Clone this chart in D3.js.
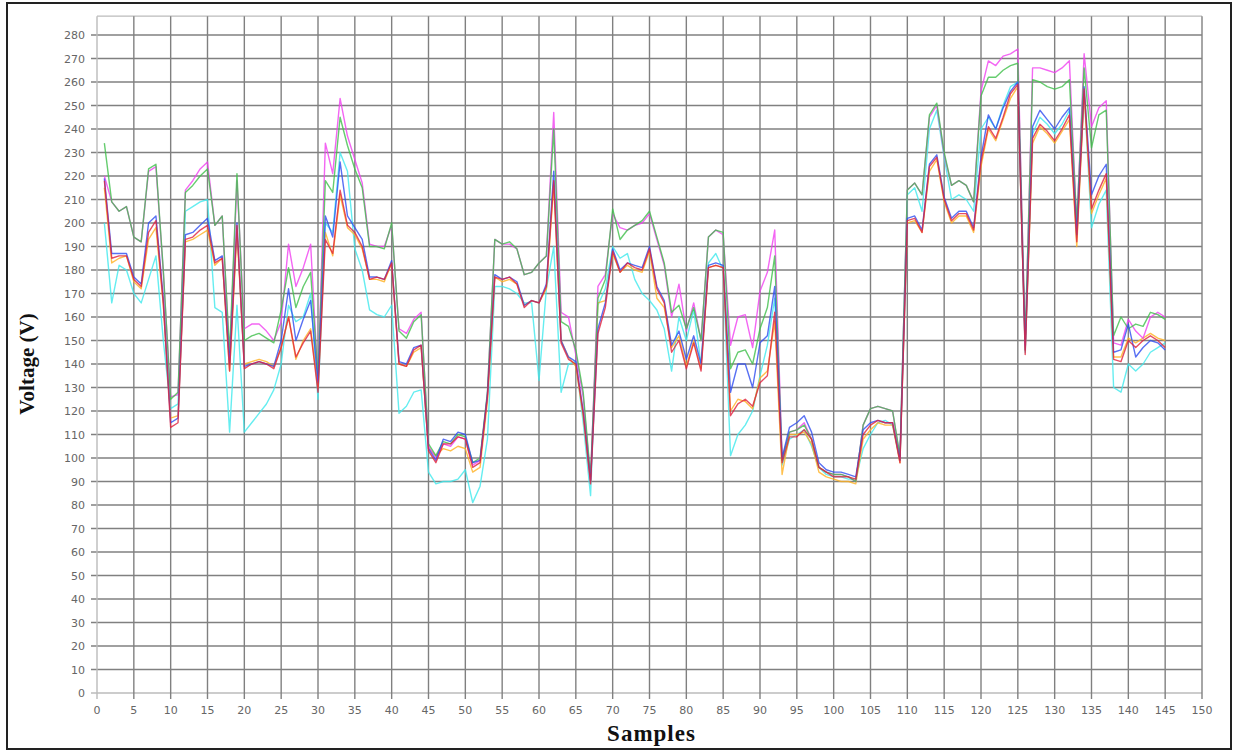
<!DOCTYPE html>
<html>
<head>
<meta charset="utf-8">
<script src="https://cdn.jsdelivr.net/npm/d3@7"></script>
<style>
  body { margin: 0; background: #fff; }
  svg { display: block; }
  .tick-label { font-family: "DejaVu Sans", sans-serif; font-size: 11px; fill: #666; }
  .axis-title { font-family: "Liberation Serif", "Times New Roman", serif; font-weight: bold; fill: #111; }
</style>
</head>
<body>
<svg id="chart" width="1238" height="753"></svg>
<script>
// samples 1..145
const samples = d3.range(1, 146);

const red = [218,185,186,186,176,173,196,201,166,113,115,193,194,197,199,183,185,137,199,138,
  140,141,140,138,147,160,143,149,154,128,193,187,214,199,196,190,176,177,176,183,
  140,139,146,148,103,98,106,106,109,108,96,98,126,177,176,177,174,164,167,166,
  173,218,149,142,140,119,89,153,164,188,179,183,181,180,189,172,166,145,150,138,
  149,137,181,182,181,118,123,125,122,132,135,162,98,109,109,112,108,96,94,92,
  92,92,91,110,114,116,115,115,98,201,202,196,224,228,210,201,204,204,197,226,
  241,236,245,255,259,144,236,242,239,235,240,246,192,257,206,214,221,142,141,150,
  147,150,152,150,147];

const blue = [219,187,187,187,177,174,200,203,168,115,117,195,196,199,202,184,186,140,200,139,
  140,141,140,139,150,172,150,159,167,132,203,194,226,203,198,193,177,177,176,184,
  141,140,147,148,104,99,108,107,111,110,98,99,127,178,176,177,175,165,167,166,
  174,222,150,143,141,120,90,155,166,189,180,183,182,181,190,173,167,148,154,142,
  152,140,182,183,182,128,140,140,130,149,152,173,100,113,115,118,111,98,95,94,
  94,93,92,112,115,116,115,115,99,202,203,197,225,229,211,202,205,205,198,228,
  246,240,249,256,260,146,241,248,244,240,245,249,195,258,212,220,225,145,146,157,
  143,147,150,149,146];

const orange = [215,183,185,186,175,172,193,198,165,117,118,192,193,195,197,182,185,137,196,140,
  141,142,141,139,147,160,142,150,155,130,196,186,212,198,195,189,176,176,175,183,
  140,139,145,147,104,101,104,103,105,104,94,96,124,177,175,176,174,165,167,166,
  172,216,150,143,139,118,90,166,167,187,179,182,180,179,188,168,164,147,152,139,
  150,138,181,182,181,120,125,124,121,134,137,158,93,110,110,111,106,94,92,91,
  90,90,89,108,112,115,114,114,98,200,201,196,222,227,209,200,203,203,196,224,
  240,235,244,253,258,146,234,241,238,234,239,244,190,255,204,212,219,143,143,151,
  149,151,153,151,150];

const green = [234,209,205,207,194,192,223,225,180,125,128,213,216,220,223,199,203,145,221,150,
  152,153,151,149,163,181,164,173,179,135,218,213,245,233,223,215,190,190,189,200,
  154,151,158,161,106,101,107,106,110,109,98,100,128,193,191,192,189,178,179,183,
  186,240,158,156,146,128,92,168,176,206,193,197,199,201,205,194,183,162,165,155,
  164,150,194,197,196,138,145,146,140,155,164,186,99,111,112,114,108,96,94,93,
  93,92,90,114,121,122,121,120,101,214,217,212,246,251,230,216,218,216,209,254,
  262,262,265,267,268,150,261,260,258,257,258,261,200,266,232,246,248,152,160,155,
  157,156,162,161,159];

const magenta = [220,209,205,207,194,192,222,224,179,126,127,214,218,223,226,199,203,142,218,155,
  157,157,154,150,158,191,173,181,191,133,234,221,253,237,227,217,191,190,190,199,
  155,153,159,162,105,100,106,105,109,108,97,99,127,193,191,191,189,178,179,183,
  186,247,162,160,144,126,91,173,178,204,198,197,199,200,204,193,182,160,174,154,
  166,150,194,197,195,148,160,161,147,171,179,197,100,111,112,115,108,96,94,93,
  93,92,90,114,121,122,121,120,100,214,217,212,245,250,229,216,218,216,209,256,
  269,267,271,272,274,148,266,266,265,264,266,269,199,272,241,249,252,149,148,159,
  154,151,160,162,160];

const cyan = [200,166,182,180,170,166,176,186,150,121,123,205,207,209,210,164,162,111,165,111,
  115,119,123,129,140,165,158,160,170,125,200,196,230,222,189,180,163,161,160,165,
  119,122,128,129,94,89,90,90,91,95,81,88,108,173,173,172,170,166,166,133,
  172,190,128,140,141,115,84,165,172,190,185,187,176,170,167,163,155,137,160,150,
  163,140,183,187,180,101,110,114,120,135,148,168,97,108,110,112,105,96,93,92,
  92,91,91,104,110,115,116,114,99,212,215,205,240,248,228,210,212,210,205,240,
  245,240,250,258,260,145,238,245,242,238,242,248,194,256,198,208,214,130,128,140,
  137,140,145,147,149];

// drawing order: paler lines first, red on top
const series = [
  { name: "cyan", values: cyan, color: "#3ee8ec" },
  { name: "orange", values: orange, color: "#ffb020" },
  { name: "magenta", values: magenta, color: "#f040f0" },
  { name: "green", values: green, color: "#3fbf4a" },
  { name: "blue", values: blue, color: "#2e4cf0" },
  { name: "red", values: red, color: "#e0203c" },
];

const xTicks = d3.range(0, 151, 5);
const yTicks = d3.range(0, 281, 10);

const svg = d3.select("#chart");

const x = d3.scaleLinear().domain([0, 150]).range([97, 1202]);
const y = d3.scaleLinear().domain([0, 280]).range([693, 35]);
const yTop = y(288);

// outer frame
svg.append("rect")
  .attr("x", 7).attr("y", 3)
  .attr("width", 1224).attr("height", 746)
  .attr("fill", "none").attr("stroke", "#222").attr("stroke-width", 2);

const grid = svg.append("g");

// horizontal grid lines
grid.selectAll("line.h")
  .data(yTicks)
  .enter()
  .append("line")
  .attr("class", "h")
  .attr("x1", x(0) - 6).attr("x2", x(150))
  .attr("y1", (d) => y(d)).attr("y2", (d) => y(d))
  .attr("stroke", (d) => (d === 0 ? "#bbb" : "#808080"))
  .attr("stroke-width", 1.4);

// top border of plot
grid.append("line")
  .attr("x1", x(0)).attr("x2", x(150))
  .attr("y1", yTop).attr("y2", yTop)
  .attr("stroke", "#bbb").attr("stroke-width", 1.2);

// vertical grid lines
grid.selectAll("line.v")
  .data(xTicks)
  .enter()
  .append("line")
  .attr("class", "v")
  .attr("x1", (d) => x(d)).attr("x2", (d) => x(d))
  .attr("y1", yTop).attr("y2", y(0) + 6)
  .attr("stroke", (d) => (d === 0 ? "#bbb" : "#808080"))
  .attr("stroke-width", 1.4);

// tick labels
svg.append("g")
  .selectAll("text")
  .data(yTicks)
  .enter()
  .append("text")
  .attr("class", "tick-label")
  .attr("x", x(0) - 12)
  .attr("y", (d) => y(d) + 4)
  .attr("text-anchor", "end")
  .text((d) => d);

svg.append("g")
  .selectAll("text")
  .data(xTicks)
  .enter()
  .append("text")
  .attr("class", "tick-label")
  .attr("x", (d) => x(d))
  .attr("y", y(0) + 21)
  .attr("text-anchor", "middle")
  .text((d) => d);

// lines
const line = d3.line()
  .x((d, i) => x(samples[i]))
  .y((d) => y(d));

svg.append("g")
  .selectAll("path")
  .data(series)
  .enter()
  .append("path")
  .attr("d", (d) => line(d.values))
  .attr("fill", "none")
  .attr("stroke", (d) => d.color)
  .attr("stroke-width", 1.4)
  .attr("stroke-opacity", 0.8)
  .attr("stroke-linejoin", "round");

// axis titles
svg.append("text")
  .attr("class", "axis-title")
  .attr("transform", `translate(34,${y(140)}) rotate(-90)`)
  .attr("text-anchor", "middle")
  .style("font-size", "21px")
  .text("Voltage (V)");

svg.append("text")
  .attr("class", "axis-title")
  .attr("x", x(75) + 2)
  .attr("y", 741)
  .attr("text-anchor", "middle")
  .style("font-size", "23px")
  .style("letter-spacing", "1px")
  .text("Samples");
</script>
</body>
</html>
